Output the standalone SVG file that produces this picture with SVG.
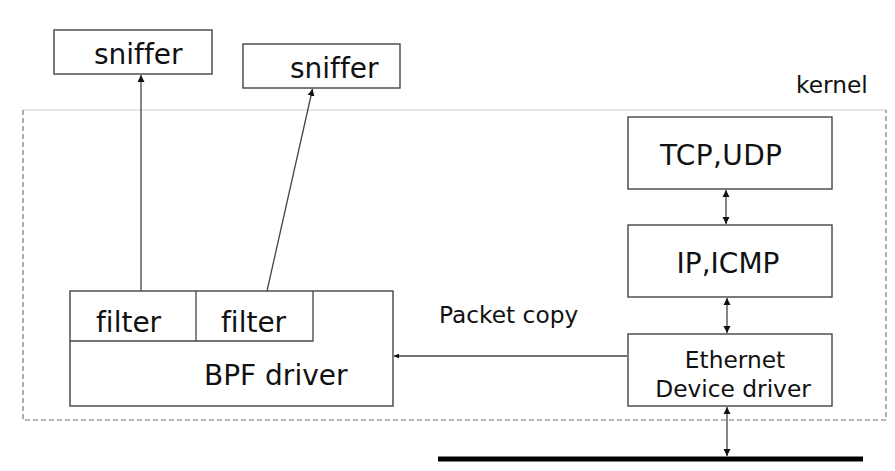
<svg xmlns="http://www.w3.org/2000/svg" width="895" height="471" viewBox="0 0 895 471">
<style>
.box{fill:#fff;stroke:#444;stroke-width:1.4}
.t{font-family:"DejaVu Sans",Verdana,sans-serif;fill:#111;font-variant-ligatures:none}
.big{font-size:28px}
.sm{font-size:23.3px}
.ln{stroke:#444;stroke-width:1.3;fill:none}
</style>
<defs>
<marker id="ah" viewBox="0 0 10 10" refX="10" refY="5" markerWidth="7" markerHeight="8" markerUnits="userSpaceOnUse" orient="auto-start-reverse"><path d="M0,0L10,5L0,10z" fill="#111"/></marker>
<marker id="ahs" viewBox="0 0 10 10" refX="10" refY="5" markerWidth="5" markerHeight="5" markerUnits="userSpaceOnUse" orient="auto"><path d="M0,0L10,5L0,10z" fill="#111"/></marker>
</defs>
<rect width="895" height="471" fill="#fff"/>
<g id="kernel">
<line x1="23" y1="110" x2="886" y2="110" stroke="#d0d0d0" stroke-width="1.2"/>
<path d="M23,110V420H886V110" fill="none" stroke="#777" stroke-width="1.2" stroke-dasharray="5,3"/>
<text class="t sm" x="796" y="93">kernel</text>
</g>
<g id="sniffer1"><rect class="box" x="54" y="30" width="158" height="44"/><text class="t big" x="94" y="64">sniffer</text></g>
<g id="sniffer2"><rect class="box" x="243" y="44" width="157" height="44"/><text class="t big" x="290" y="78">sniffer</text></g>
<g id="bpf">
<rect class="box" x="70" y="291" width="323" height="115"/>
<path class="ln" d="M70,341H313V291M196,291V341"/>
<text class="t big" x="96" y="332">filter</text>
<text class="t big" x="221" y="332">filter</text>
<text class="t big" x="204" y="385">BPF driver</text>
</g>
<g id="tcp"><rect class="box" x="628" y="117" width="204" height="72"/><text class="t big" x="660" y="165" textLength="122">TCP,UDP</text></g>
<g id="ip"><rect class="box" x="628" y="225" width="204" height="72"/><text class="t big" x="728" y="273" text-anchor="middle">IP,ICMP</text></g>
<g id="eth"><rect class="box" x="628" y="334" width="204" height="72"/>
<text class="t sm" x="735" y="368" text-anchor="middle">Ethernet</text>
<text class="t sm" x="733" y="397" text-anchor="middle">Device driver</text></g>
<g id="bus"><line x1="438" y1="459" x2="863" y2="459" stroke="#000" stroke-width="5"/></g>
<g id="connectors">
<line class="ln" x1="141" y1="291" x2="141" y2="75" marker-end="url(#ah)"/>
<line class="ln" x1="267" y1="291" x2="312.5" y2="89" marker-end="url(#ah)"/>
<line class="ln" x1="627" y1="356" x2="394" y2="356" marker-end="url(#ahs)"/>
<line class="ln" x1="726" y1="190" x2="726" y2="224" marker-start="url(#ah)" marker-end="url(#ah)"/>
<line class="ln" x1="727" y1="298" x2="727" y2="333" marker-start="url(#ah)" marker-end="url(#ah)"/>
<line class="ln" x1="727" y1="407" x2="727" y2="456" marker-start="url(#ah)" marker-end="url(#ah)"/>
<text class="t sm" x="439" y="323">Packet copy</text>
</g>
</svg>
